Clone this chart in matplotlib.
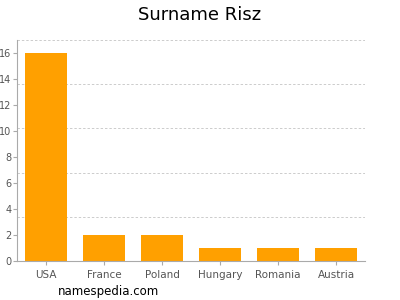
import matplotlib
matplotlib.use("Agg")
import matplotlib.pyplot as plt
import numpy as np

countries = ["USA", "France", "Poland", "Hungary", "Romania", "Austria"]
counts = [16, 2, 2, 1, 1, 1]
yticks = [0, 2, 4, 6, 8, 10, 12, 14, 16]
grid_levels = [3.4, 6.8, 10.2, 13.6, 17]

fig = plt.figure(figsize=(4, 3), dpi=100)
ax = fig.add_axes([0.0425, 0.13, 0.87, 0.7367])
x = np.arange(len(countries))
ax.bar(x, counts, width=0.74, color="#ffa000", zorder=2)
ax.set_xlim(-0.5, len(countries) - 0.5)
ax.set_ylim(0, 17)
for g in grid_levels:
    ax.axhline(g, color="#cccccc", linestyle=(0, (2.5, 2)), linewidth=0.7, zorder=1)
ax.set_yticks(yticks)
ax.set_xticks(x)
ax.set_xticklabels(countries)
for s in ["top", "right"]:
    ax.spines[s].set_visible(False)
for s in ["left", "bottom"]:
    ax.spines[s].set_color("#aaaaaa")
    ax.spines[s].set_linewidth(0.8)
ax.tick_params(axis="both", colors="#aaaaaa", labelcolor="#555555", labelsize=7.5, length=3, width=0.8)
ax.tick_params(axis="y", pad=1, labelsize=7)
fig.text(0.5, 0.95, "Surname Risz", ha="center", va="center", fontsize=13)
fig.text(0.145, 0.03, "namespedia.com", ha="left", va="center", fontsize=8.5)
fig.savefig("out.png", dpi=100)
